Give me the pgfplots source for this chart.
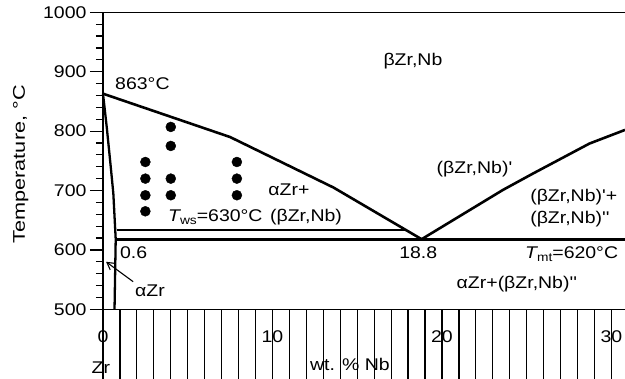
\documentclass[border=0pt]{standalone}
\usepackage{pgfplots}
\pgfplotsset{compat=1.18}
\usepackage{fontspec}
\usetikzlibrary{arrows.meta}
\newfontfamily\lab{Liberation Sans}[FakeStretch=1.15]
\newfontfamily\ylab{Liberation Sans}[FakeStretch=1.28]
\newfontfamily\labit{Liberation Sans Italic}[FakeStretch=1.15]
\newcommand{\fs}{\lab\fontsize{17}{20}\selectfont}
\newcommand{\sub}[1]{\raisebox{-0.35ex}{\fontsize{12}{12}\selectfont #1}}
\begin{document}
\begin{tikzpicture}[font=\fs]
\begin{axis}[
  scale only axis, width=522bp, height=297bp,
  xmin=0, xmax=30.8, ymin=500, ymax=1000,
  axis x line*=box, axis y line*=left,
  axis line style={line width=1.2pt, -},
  tick pos=left,
  tick align=outside,
  xtick={0,10,20,30},
  ytick={500,600,...,1000}, minor ytick={520,540,...,980},
  major tick length=13bp, minor tick length=7bp,
  every tick/.append style={line width=1.2pt, black},
  every minor tick/.append style={line width=1.2pt, black},
  /pgf/number format/assume math mode=true,
  /pgf/number format/1000 sep={},
  ticklabel style={font=\fs},
  xticklabel style={yshift=-5bp},
  clip=false,
]
% x-axis ticks drawn explicitly
\pgfplotsinvokeforeach{1,2,3,4,5,6,7,8,9,11,12,13,14,15,16,17,18,19,21,22,23,24,25,26,27,28,29}{
  \draw[line width=1.2pt] (axis cs:#1,500) -- ++(0,-7bp);
}
\pgfplotsinvokeforeach{0,10,20,30}{
  \draw[line width=1.2pt] (axis cs:#1,500) -- ++(0,-13bp);
}
% beta transus (left)
\addplot[line width=2.6pt, line join=round] coordinates {(0,863) (7.5,790) (13.6,705) (18.8,618)};
% right branch
\addplot[line width=2.6pt, line join=round] coordinates {(18.8,618) (23.6,701) (25.4,729) (28.7,779) (30.8,802)};
% alpha solvus
\addplot[line width=2.3pt, line join=round] coordinates {(0,863) (0.22,807) (0.45,742) (0.61,695) (0.75,618) (0.68,500)};
% monotectoid
\addplot[line width=2.6pt] coordinates {(0.75,618) (30.8,618)};
% Tws thin
\addplot[line width=1.1pt] coordinates {(0.8,633.5) (17.87,633.5)};
% dots
\addplot[only marks, mark=*, mark size=5bp, black] coordinates {
 (2.5,748) (2.5,720) (2.5,692) (2.5,665)
 (4.0,807) (4.0,775) (4.0,720) (4.0,692)
 (7.9,748) (7.9,720) (7.9,692)};
% labels
\node[anchor=base west, inner sep=0] at (axis cs:16.54,911) {βZr,Nb};
\node[anchor=base west, inner sep=0] at (axis cs:0.71,870.4) {863°C};
\node[anchor=base west, inner sep=0] at (axis cs:9.75,692.4) {αZr+};
\node[anchor=base west, inner sep=0] at (axis cs:9.85,647.5) {(βZr,Nb)};
\node[anchor=base west, inner sep=0] at (axis cs:3.83,647.5) {{\labit T}\sub{ws}=630°C};
\node[anchor=base west, inner sep=0] at (axis cs:1.0,586) {0.6};
\node[anchor=base west, inner sep=0] at (axis cs:1.89,522) {αZr};
\draw[line width=1.1pt, -{Straight Barb[length=7bp,width=8bp]}] (axis cs:1.78,546.5) -- (axis cs:0.18,580);
\node[anchor=base, inner sep=0] at (axis cs:18.6,586) {18.8};
\node[anchor=base west, inner sep=0] at (axis cs:24.9,586) {{\labit T}\sub{mt}=620°C};
\node[anchor=base west, inner sep=0] at (axis cs:20.86,535.4) {αZr+(βZr,Nb)''};
\node[anchor=base west, inner sep=0] at (axis cs:19.68,729) {(βZr,Nb)'};
\node[anchor=base west, inner sep=0] at (axis cs:25.2,681) {(βZr,Nb)'+};
\node[anchor=base west, inner sep=0] at (axis cs:25.2,644.8) {(βZr,Nb)''};
% axis labels
\node[anchor=base, inner sep=0, yshift=-61.4bp] at (axis cs:14.57,500) {wt. \% Nb};
\node[anchor=base, inner sep=0, yshift=-64bp] at (axis cs:-0.13,500) {Zr};
\node[anchor=base, inner sep=0, rotate=90] at ([xshift=-78bp]axis cs:0,744) {\ylab\fontsize{17}{20}\selectfont Temperature, °C};
\end{axis}
\pgfresetboundingbox
\path[use as bounding box] (-103bp,-69.7bp) rectangle (522bp,309.3bp);
\end{tikzpicture}
\end{document}
